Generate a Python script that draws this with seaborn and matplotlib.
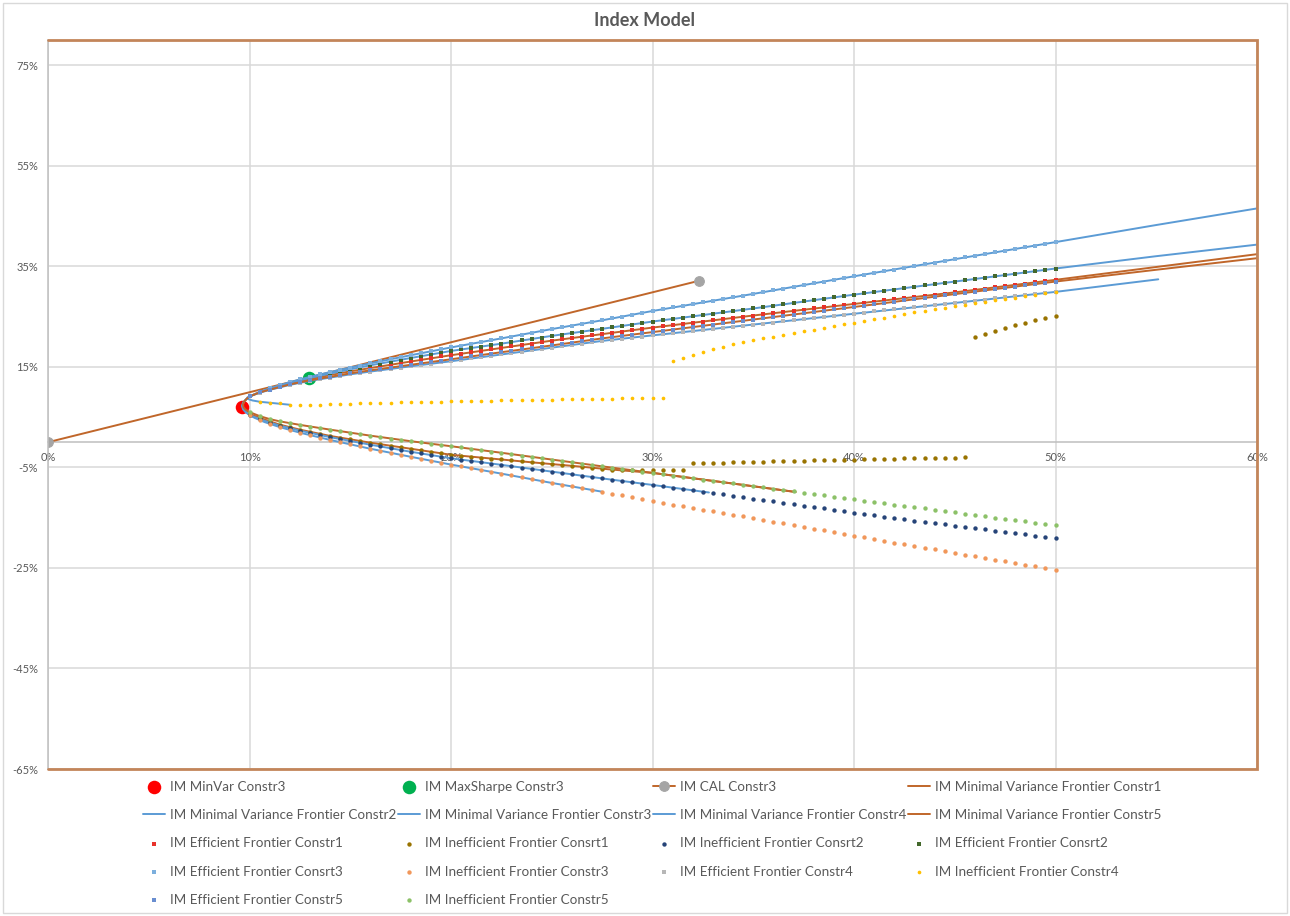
import numpy as np
import matplotlib
matplotlib.use("Agg")
import matplotlib.pyplot as plt
import seaborn as sns
from matplotlib.patches import Rectangle

# ---------------------------------------------------------------- data (%)
# portfolio standard deviation grid used by the efficient / inefficient points
SIGMA_GRID = [
    10.0, 10.5, 11.0, 11.5, 12.0, 12.5, 13.0, 13.5, 14.0, 14.5,
    15.0, 15.5, 16.0, 16.5, 17.0, 17.5, 18.0, 18.5, 19.0, 19.5,
    20.0, 20.5, 21.0, 21.5, 22.0, 22.5, 23.0, 23.5, 24.0, 24.5,
    25.0, 25.5, 26.0, 26.5, 27.0, 27.5, 28.0, 28.5, 29.0, 29.5,
    30.0, 30.5, 31.0, 31.5, 32.0, 32.5, 33.0, 33.5, 34.0, 34.5,
    35.0, 35.5, 36.0, 36.5, 37.0, 37.5, 38.0, 38.5, 39.0, 39.5,
    40.0, 40.5, 41.0, 41.5, 42.0, 42.5, 43.0, 43.5, 44.0, 44.5,
    45.0, 45.5, 46.0, 46.5, 47.0, 47.5, 48.0, 48.5, 49.0, 49.5,
    50.0,
]

EFF_C1 = [
    9.1, 9.9, 10.55, 11.15, 11.65, 12.1, 12.55, 12.95, 13.35, 13.7,
    14.1, 14.4, 14.75, 15.1, 15.4, 15.75, 16.05, 16.4, 16.7, 17.05,
    17.3, 17.6, 17.9, 18.15, 18.45, 18.75, 19.05, 19.35, 19.6, 19.9,
    20.2, 20.45, 20.7, 21.0, 21.25, 21.5, 21.75, 22.0, 22.3, 22.55,
    22.8, 23.05, 23.3, 23.5, 23.75, 24.0, 24.25, 24.5, 24.7, 24.95,
    25.2, 25.45, 25.65, 25.9, 26.1, 26.35, 26.6, 26.8, 27.05, 27.25,
    27.5, 27.75, 27.95, 28.2, 28.4, 28.65, 28.9, 29.1, 29.35, 29.55,
    29.8, 30.05, 30.3, 30.55, 30.8, 31.05, 31.3, 31.55, 31.8, 32.05,
    32.3,
]
INEFF_C1 = [
    5.6, 4.8, 4.1, 3.5, 3.0, 2.5, 2.05, 1.65, 1.25, 0.9,
    0.55, 0.2, -0.1, -0.4, -0.7, -1.0, -1.3, -1.6, -1.9, -2.2,
    -2.5, -2.7, -2.85, -3.05, -3.25, -3.4, -3.6, -3.8, -4.0, -4.15,
    -4.35, -4.55, -4.7, -4.9, -5.1, -5.3, -5.45, -5.5, -5.5, -5.5,
    -5.5, -5.5, -5.5, -5.5, -4.2, -4.15, -4.1, -4.05, -4.0, -3.95,
    -3.9, -3.85, -3.8, -3.75, -3.7, -3.65, -3.6, -3.55, -3.5, -3.5,
    -3.45, -3.4, -3.35, -3.3, -3.25, -3.2, -3.2, -3.15, -3.1, -3.05,
    -3.05, -3.0, 20.95, 21.6, 22.15, 22.8, 23.35, 23.8, 24.3, 24.7,
    25.1,
]
INEFF_C2 = [
    5.4, 4.6, 3.9, 3.3, 2.8, 2.3, 1.85, 1.4, 1.0, 0.6,
    0.2, -0.15, -0.5, -0.85, -1.2, -1.55, -1.9, -2.2, -2.55, -2.9,
    -3.2, -3.45, -3.75, -4.0, -4.25, -4.5, -4.8, -5.05, -5.3, -5.6,
    -5.85, -6.1, -6.4, -6.65, -6.9, -7.2, -7.45, -7.7, -7.95, -8.25,
    -8.5, -8.75, -9.05, -9.3, -9.55, -9.85, -10.1, -10.4, -10.65, -10.95,
    -11.2, -11.5, -11.75, -12.05, -12.3, -12.6, -12.9, -13.15, -13.45, -13.7,
    -14.0, -14.25, -14.55, -14.8, -15.1, -15.35, -15.6, -15.85, -16.1, -16.35,
    -16.6, -16.85, -17.1, -17.35, -17.6, -17.85, -18.1, -18.35, -18.6, -18.85,
    -19.1,
]
EFF_C2 = [
    9.1, 9.95, 10.6, 11.3, 11.8, 12.3, 12.8, 13.25, 13.65, 14.1,
    14.5, 14.85, 15.3, 15.65, 16.0, 16.4, 16.75, 17.1, 17.45, 17.85,
    18.15, 18.45, 18.7, 19.0, 19.35, 19.6, 19.9, 20.25, 20.5, 20.8,
    21.15, 21.4, 21.7, 22.0, 22.25, 22.55, 22.85, 23.15, 23.4, 23.7,
    24.0, 24.3, 24.55, 24.75, 25.05, 25.3, 25.6, 25.85, 26.1, 26.35,
    26.6, 26.9, 27.15, 27.45, 27.7, 28.0, 28.25, 28.5, 28.8, 29.05,
    29.35, 29.6, 29.9, 30.1, 30.35, 30.65, 30.9, 31.2, 31.4, 31.7,
    31.95, 32.2, 32.5, 32.7, 33.0, 33.25, 33.55, 33.8, 34.0, 34.3,
    34.55,
]
EFF_C3 = [
    9.1, 10.0, 10.7, 11.4, 11.95, 12.5, 13.0, 13.5, 13.95, 14.4,
    14.85, 15.25, 15.7, 16.1, 16.5, 16.9, 17.3, 17.7, 18.1, 18.5,
    18.85, 19.2, 19.55, 19.9, 20.3, 20.65, 21.0, 21.4, 21.75, 22.1,
    22.5, 22.85, 23.2, 23.55, 23.9, 24.25, 24.65, 25.0, 25.35, 25.7,
    26.1, 26.45, 26.8, 27.1, 27.45, 27.8, 28.15, 28.5, 28.8, 29.15,
    29.5, 29.85, 30.2, 30.55, 30.9, 31.25, 31.6, 31.95, 32.3, 32.65,
    33.0, 33.35, 33.7, 34.0, 34.35, 34.7, 35.05, 35.4, 35.7, 36.05,
    36.4, 36.75, 37.1, 37.4, 37.75, 38.1, 38.45, 38.8, 39.1, 39.45,
    39.8,
]
INEFF_C3 = [
    5.4, 4.4, 3.7, 3.0, 2.45, 1.9, 1.4, 0.9, 0.45, 0.0,
    -0.45, -0.85, -1.3, -1.7, -2.1, -2.5, -2.9, -3.3, -3.7, -4.1,
    -4.45, -4.8, -5.15, -5.5, -5.9, -6.25, -6.6, -7.0, -7.35, -7.7,
    -8.1, -8.45, -8.8, -9.15, -9.5, -9.85, -10.25, -10.6, -10.95, -11.3,
    -11.7, -12.05, -12.4, -12.7, -13.05, -13.4, -13.75, -14.1, -14.4, -14.75,
    -15.1, -15.45, -15.8, -16.15, -16.5, -16.85, -17.2, -17.55, -17.9, -18.25,
    -18.6, -18.95, -19.3, -19.6, -19.95, -20.3, -20.65, -21.0, -21.3, -21.65,
    -22.0, -22.35, -22.7, -23.0, -23.35, -23.7, -24.05, -24.4, -24.7, -25.05,
    -25.4,
]
EFF_C4 = [
    9.1, 9.85, 10.4, 11.0, 11.4, 11.8, 12.2, 12.55, 12.85, 13.15,
    13.5, 13.75, 14.05, 14.3, 14.6, 14.85, 15.1, 15.35, 15.6, 15.9,
    16.1, 16.35, 16.65, 16.9, 17.2, 17.45, 17.7, 18.0, 18.25, 18.55,
    18.8, 19.05, 19.35, 19.6, 19.9, 20.15, 20.35, 20.6, 20.8, 21.0,
    21.25, 21.45, 21.65, 21.9, 22.1, 22.3, 22.55, 22.75, 22.95, 23.2,
    23.4, 23.6, 23.8, 24.05, 24.25, 24.45, 24.7, 24.9, 25.1, 25.35,
    25.55, 25.75, 26.0, 26.2, 26.4, 26.65, 26.85, 27.05, 27.3, 27.5,
    27.7, 27.95, 28.15, 28.35, 28.6, 28.8, 29.0, 29.25, 29.45, 29.65,
    29.9,
]
INEFF_C4 = [
    None, 8.05, 7.85, 7.7, 7.5, 7.4, 7.45, 7.5, 7.55, 7.6,
    7.65, 7.7, 7.75, 7.8, 7.85, 7.9, 7.9, 7.95, 8.0, 8.05,
    8.1, 8.15, 8.2, 8.2, 8.25, 8.3, 8.3, 8.35, 8.4, 8.45,
    8.45, 8.5, 8.55, 8.55, 8.6, 8.6, 8.65, 8.7, 8.7, 8.75,
    8.8, 8.8, 16.2, 16.8, 17.4, 17.95, 18.5, 19.0, 19.45, 19.9,
    20.3, 20.65, 21.0, 21.35, 21.7, 22.05, 22.4, 22.75, 23.1, 23.45,
    23.8, 24.15, 24.45, 24.8, 25.15, 25.5, 25.8, 26.1, 26.4, 26.7,
    27.0, 27.3, 27.6, 27.9, 28.2, 28.45, 28.75, 29.05, 29.35, 29.6,
    29.9,
]
EFF_C5 = [
    9.1, 9.9, 10.45, 11.05, 11.5, 11.9, 12.3, 12.7, 13.0, 13.35,
    13.7, 13.95, 14.3, 14.55, 14.85, 15.15, 15.4, 15.7, 16.0, 16.25,
    16.5, 16.8, 17.05, 17.35, 17.6, 17.9, 18.15, 18.45, 18.7, 19.0,
    19.25, 19.55, 19.8, 20.1, 20.35, 20.65, 20.9, 21.15, 21.4, 21.65,
    21.9, 22.15, 22.4, 22.65, 22.9, 23.15, 23.4, 23.65, 23.9, 24.15,
    24.4, 24.65, 24.9, 25.15, 25.4, 25.65, 25.9, 26.15, 26.4, 26.65,
    26.9, 27.15, 27.4, 27.7, 27.95, 28.2, 28.45, 28.7, 28.95, 29.2,
    29.45, 29.7, 29.95, 30.2, 30.45, 30.7, 30.95, 31.2, 31.45, 31.7,
    31.95,
]
INEFF_C5 = [
    6.0, 5.2, 4.6, 4.15, 3.8, 3.45, 3.1, 2.8, 2.5, 2.2,
    1.9, 1.6, 1.3, 1.0, 0.7, 0.45, 0.2, -0.05, -0.3, -0.55,
    -0.8, -1.05, -1.3, -1.6, -1.85, -2.1, -2.4, -2.65, -2.9, -3.2,
    -3.45, -3.7, -4.0, -4.25, -4.5, -4.8, -5.05, -5.3, -5.6, -5.85,
    -6.1, -6.4, -6.65, -6.9, -7.2, -7.45, -7.7, -7.95, -8.2, -8.5,
    -8.75, -9.0, -9.25, -9.5, -9.8, -10.05, -10.3, -10.55, -10.8, -11.1,
    -11.35, -11.6, -11.85, -12.1, -12.4, -12.65, -12.9, -13.15, -13.4, -13.7,
    -13.95, -14.2, -14.45, -14.7, -15.0, -15.25, -15.5, -15.75, -16.0, -16.3,
    -16.55,
]

# minimal variance frontiers, traced from the low-return end to the high-return end
MVF_C1_SIGMA = [37.1, 33, 30, 28, 26, 24, 22, 20, 18, 16, 14, 12.5, 11.5, 10.75, 10.25,
                10, 9.8, 9.68, 9.65, 9.7, 9.8, 10, 10.5, 11, 12, 13, 14, 15, 16, 18,
                20, 22.5, 25, 27.5, 30, 35, 40, 45, 50, 55, 60, 62.5]
MVF_C1_MU = [-9.9, -7.7, -6.1, -5.45, -4.7, -4.0, -3.25, -2.5, -1.3, -0.1, 1.25, 2.5, 3.5, 4.5, 5.25,
             5.6, 6.2, 6.8, 7.3, 7.9, 8.4, 9.1, 9.9, 10.55, 11.65, 12.55, 13.35, 14.1, 14.75, 16.05,
             17.3, 18.75, 20.2, 21.5, 22.8, 25.2, 27.5, 29.8, 32.3, 34.85, 37.4, 38.7]

MVF_C2_SIGMA = [32.8, 30, 27.5, 25, 22.5, 20, 18, 16, 14, 12.5, 11.5, 10.75, 10.25, 10,
                9.8, 9.68, 9.65, 9.7, 9.8, 10, 10.5, 11, 12, 13, 14, 15, 16, 18, 20,
                22.5, 25, 27.5, 30, 35, 40, 45, 50, 55, 60, 62.5]
MVF_C2_MU = [-10.0, -8.5, -7.2, -5.85, -4.5, -3.2, -1.9, -0.5, 1.0, 2.3, 3.3, 4.25, 5.0, 5.4,
             6.1, 6.7, 7.3, 7.9, 8.4, 9.1, 9.95, 10.6, 11.8, 12.8, 13.65, 14.5, 15.3, 16.75, 18.15,
             19.6, 21.15, 22.55, 24.0, 26.6, 29.35, 31.95, 34.55, 37.0, 39.3, 40.45]

MVF_C3_SIGMA = [27.5, 25, 22.5, 20, 18, 16, 14, 12.5, 11.5, 10.75, 10.25, 10, 9.8, 9.68,
                9.63, 9.68, 9.8, 10, 10.5, 11, 12, 13, 14, 15, 16, 18, 20, 22.5, 25,
                27.5, 30, 35, 40, 45, 50, 55, 60, 62.5]
MVF_C3_MU = [-9.85, -8.1, -6.25, -4.45, -2.9, -1.3, 0.45, 1.9, 3.0, 4.0, 4.85, 5.4, 6.0, 6.55,
             7.2, 7.85, 8.4, 9.1, 10.0, 10.7, 11.95, 13.0, 13.95, 14.85, 15.7, 17.3, 18.85, 20.65, 22.5,
             24.25, 26.1, 29.5, 33.0, 36.4, 39.8, 43.2, 46.5, 48.2]

MVF_C4_SIGMA = [12.0, 11.5, 11.0, 10.5, 10.15, 9.92, 9.88, 9.95, 10, 10.5, 11, 12, 13, 14,
                15, 16, 18, 20, 22.5, 25, 27.5, 30, 35, 40, 45, 50, 55.1]
MVF_C4_MU = [7.45, 7.65, 7.85, 8.05, 8.3, 8.6, 8.85, 9.0, 9.1, 9.85, 10.4, 11.4, 12.2, 12.85,
             13.5, 14.05, 15.1, 16.1, 17.45, 18.8, 20.15, 21.25, 23.4, 25.55, 27.7, 29.9, 32.4]

MVF_C5_SIGMA = [37.1, 35, 33, 30, 27.5, 25, 22.5, 20, 18, 16, 14, 12.5, 11.5, 11, 10.5,
                10.25, 10, 9.8, 9.7, 9.68, 9.72, 9.85, 10, 10.5, 11, 12, 13, 14, 15, 16,
                18, 20, 22.5, 25, 27.5, 30, 35, 40, 45, 50, 55, 60, 62.5]
MVF_C5_MU = [-9.9, -8.75, -7.7, -6.1, -4.8, -3.45, -2.1, -0.8, 0.2, 1.3, 2.5, 3.45, 4.15, 4.6, 5.2,
             5.6, 6.0, 6.5, 7.0, 7.5, 8.0, 8.6, 9.1, 9.9, 10.45, 11.5, 12.3, 13.0, 13.7, 14.3,
             15.4, 16.5, 17.9, 19.25, 20.65, 21.9, 24.4, 26.9, 29.45, 31.95, 34.3, 36.6, 37.75]

# optimal portfolios and capital allocation line (constraint set 3)
MINVAR_SIGMA, MINVAR_MU = [9.63], [7.0]
MAXSHARPE_SIGMA, MAXSHARPE_MU = [12.95], [12.85]
CAL_SIGMA = [0.0, 32.3]
CAL_MU = [0.0, 32.1]

X_TICKS = [0, 10, 20, 30, 40, 50, 60]
Y_TICKS = [-65, -45, -25, -5, 15, 35, 55, 75]

# ---------------------------------------------------------------- style
sns.set_style("white")
plt.rcParams["font.family"] = ["Lato", "DejaVu Sans"]

TEXT = "#595959"
BROWN = "#C0662A"
FRAME = "#C3855A"
BLUE = "#5B9BD5"
GRID = "#D9D9D9"
AXIS = "#BFBFBF"

W, H = 1290, 916
fig = plt.figure(figsize=(W / 100, H / 100), dpi=100)
ax = fig.add_axes([48 / W, 1 - 769 / H, (1257 - 48) / W, (769 - 40) / H])

# ---------------------------------------------------------------- series
def frontier(sig, mu, color, label):
    sns.lineplot(x=sig, y=mu, sort=False, estimator=None, color=color, lw=1.4,
                 label=label, ax=ax, zorder=2)


def points(mu, color, label, marker="o", size=10):
    sns.scatterplot(x=SIGMA_GRID, y=np.array(mu, dtype=float), color=color, s=size,
                    marker=marker, linewidth=0, label=label, ax=ax, zorder=3)


sns.scatterplot(x=MINVAR_SIGMA, y=MINVAR_MU, color="#FF0000", s=95, linewidth=0,
                label="IM MinVar Constr3", ax=ax, zorder=1.8)
sns.scatterplot(x=MAXSHARPE_SIGMA, y=MAXSHARPE_MU, color="#00B050", s=95, linewidth=0,
                label="IM MaxSharpe Constr3", ax=ax, zorder=1.8)
sns.lineplot(x=CAL_SIGMA, y=CAL_MU, sort=False, estimator=None, color=BROWN, lw=1.4,
             marker="o", markersize=7, markerfacecolor="#A5A5A5", markeredgecolor="#A5A5A5",
             label="IM CAL Constr3", ax=ax, zorder=2)

frontier(MVF_C1_SIGMA, MVF_C1_MU, BROWN, "IM Minimal Variance Frontier Constr1")
frontier(MVF_C2_SIGMA, MVF_C2_MU, BLUE, "IM Minimal Variance Frontier Constr2")
frontier(MVF_C3_SIGMA, MVF_C3_MU, BLUE, "IM Minimal Variance Frontier Constr3")
frontier(MVF_C4_SIGMA, MVF_C4_MU, BLUE, "IM Minimal Variance Frontier Constr4")
frontier(MVF_C5_SIGMA, MVF_C5_MU, BROWN, "IM Minimal Variance Frontier Constr5")

points(EFF_C1, "#E8322B", "IM Efficient Frontier Constr1", marker="s", size=7)
points(INEFF_C1, "#997300", "IM Inefficient Frontier Consrt1")
points(INEFF_C2, "#264478", "IM Inefficient Frontier Consrt2")
points(EFF_C2, "#43682B", "IM Efficient Frontier Consrt2", marker="s", size=9)
points(EFF_C3, "#7CAFDD", "IM Efficient Frontier Consrt3", marker="s", size=8)
points(INEFF_C3, "#F1975A", "IM Inefficient Frontier Constr3")
points(EFF_C4, "#B7B7B7", "IM Efficient Frontier Constr4", marker="s", size=8)
points(INEFF_C4, "#FFC000", "IM Inefficient Frontier Constr4", size=7)
points(EFF_C5, "#698ED0", "IM Efficient Frontier Constr5", marker="s", size=8)
points(INEFF_C5, "#8CC168", "IM Inefficient Frontier Constr5")

# ---------------------------------------------------------------- axes
ax.set_xlim(X_TICKS[0], X_TICKS[-1])
ax.set_ylim(-65, 80)
ax.set_xticks(X_TICKS)
ax.set_yticks(Y_TICKS)
ax.set_xticklabels([f"{v}%" for v in X_TICKS])
ax.set_yticklabels([f"{v}%" for v in Y_TICKS])
ax.set_xlabel("")
ax.set_ylabel("")
ax.set_axisbelow(True)
ax.grid(True, color=GRID, lw=1.1)
ax.tick_params(length=0, labelsize=8, labelcolor=TEXT, pad=7)

for side in ("top", "right"):
    ax.spines[side].set_visible(False)
ax.spines["left"].set_color(AXIS)
ax.spines["left"].set_linewidth(1.1)
ax.spines["bottom"].set_position(("data", 0))
ax.spines["bottom"].set_color(AXIS)
ax.spines["bottom"].set_linewidth(1.1)
ax.spines["bottom"].set_zorder(1.5)

# plot-area border on the top, right and bottom edges
ax.plot([0, 1, 1, 0], [1, 1, 0, 0], transform=ax.transAxes, color=FRAME, lw=2.0,
        clip_on=False, zorder=5, solid_joinstyle="miter")

# ---------------------------------------------------------------- legend
handles, labels = ax.get_legend_handles_labels()
ax.get_legend().remove()

col_x = [143, 398, 653, 908]
for c, x0 in enumerate(col_x):
    idx = list(range(c, len(handles), 4))
    fig.legend([handles[i] for i in idx], [labels[i] for i in idx],
               loc="upper left", bbox_to_anchor=(x0 / W, 1 - 781 / H),
               frameon=False, fontsize=9.7, labelcolor=TEXT,
               handlelength=1.65, handletextpad=0.37, labelspacing=1.2,
               borderpad=0, borderaxespad=0, scatterpoints=1, numpoints=1)

# ---------------------------------------------------------------- title and chart border
fig.text(0.5, 1 - 21 / H, "Index Model", ha="center", va="center",
         fontsize=13, fontweight="bold", color=TEXT)
fig.add_artist(Rectangle((3 / W, 3 / H), 1 - 6 / W, 1 - 6 / H, transform=fig.transFigure,
                         fill=False, edgecolor="#D9D9D9", lw=1.0))

fig.savefig("out.png", dpi=100)
